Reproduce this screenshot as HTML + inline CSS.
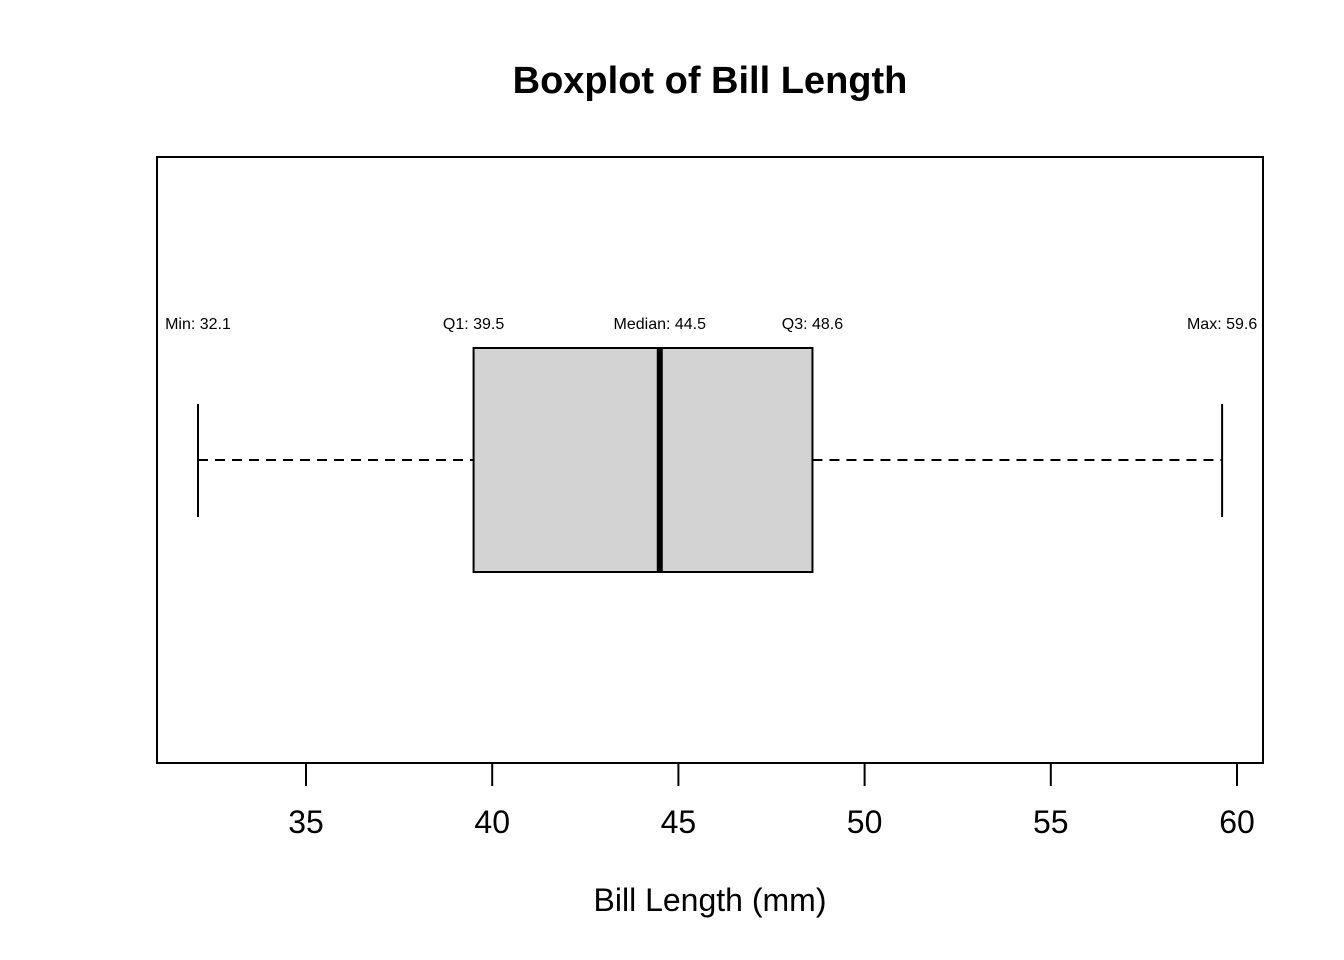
<!DOCTYPE html>
<html><head><meta charset="utf-8"><style>
html,body{margin:0;padding:0;background:#fff;}
svg{display:block;font-family:"Liberation Sans",sans-serif;}
</style></head><body>
<svg id="chart" width="1344" height="960" xmlns="http://www.w3.org/2000/svg">
<text x="710" y="93" text-anchor="middle" font-size="38" font-weight="bold">Boxplot of Bill Length</text>
<rect x="157" y="157" width="1106" height="606" fill="none" stroke="#000" stroke-width="2"/>
<g id="axis"></g>
<g id="box"></g>
<text x="710" y="911" text-anchor="middle" font-size="32">Bill Length (mm)</text>
</svg>
<script>
const statNames = ["Min","Q1","Median","Q3","Max"];
const statValues = [32.1, 39.5, 44.5, 48.6, 59.6];
const tickValues = [35, 40, 45, 50, 55, 60];
const NS = "http://www.w3.org/2000/svg";
function xs(v){ return 306 + (v - 35) * (1237 - 306) / 25; }
function mk(tag, attrs, parent){ const e=document.createElementNS(NS,tag); for(const k in attrs) e.setAttribute(k,attrs[k]); parent.appendChild(e); return e; }
const axis=document.getElementById('axis');
tickValues.forEach(t=>{
  const l=mk('line',{x1:xs(t),x2:xs(t),y1:763,y2:786,stroke:'#000','stroke-width':2},axis);
  
  
  const tx=mk('text',{x:xs(t),y:833,'text-anchor':'middle','font-size':32},axis);
  
  
  tx.textContent=t;
});
const g=document.getElementById('box');
const [mn,q1,md,q3,mx]=statValues;
let e;
e=mk('line',{x1:xs(mn),x2:xs(q1),y1:460,y2:460,stroke:'#000','stroke-width':2,'stroke-dasharray':'10,7'},g);


e=mk('line',{x1:xs(q3),x2:xs(mx),y1:460,y2:460,stroke:'#000','stroke-width':2,'stroke-dasharray':'10,7'},g);


e=mk('line',{x1:xs(mn),x2:xs(mn),y1:404,y2:517,stroke:'#000','stroke-width':2},g);


e=mk('line',{x1:xs(mx),x2:xs(mx),y1:404,y2:517,stroke:'#000','stroke-width':2},g);


e=mk('rect',{x:xs(q1),y:348,width:xs(q3)-xs(q1),height:224,fill:'#d3d3d3',stroke:'#000','stroke-width':2},g);


e=mk('line',{x1:xs(md),x2:xs(md),y1:348,y2:572,stroke:'#000','stroke-width':6},g);


statValues.forEach((v,i)=>{
  const t=mk('text',{x:xs(v),y:329,'text-anchor':'middle','font-size':16},g);
  
  
  t.textContent=statNames[i]+': '+v.toFixed(1);
});
</script>
</body></html>
